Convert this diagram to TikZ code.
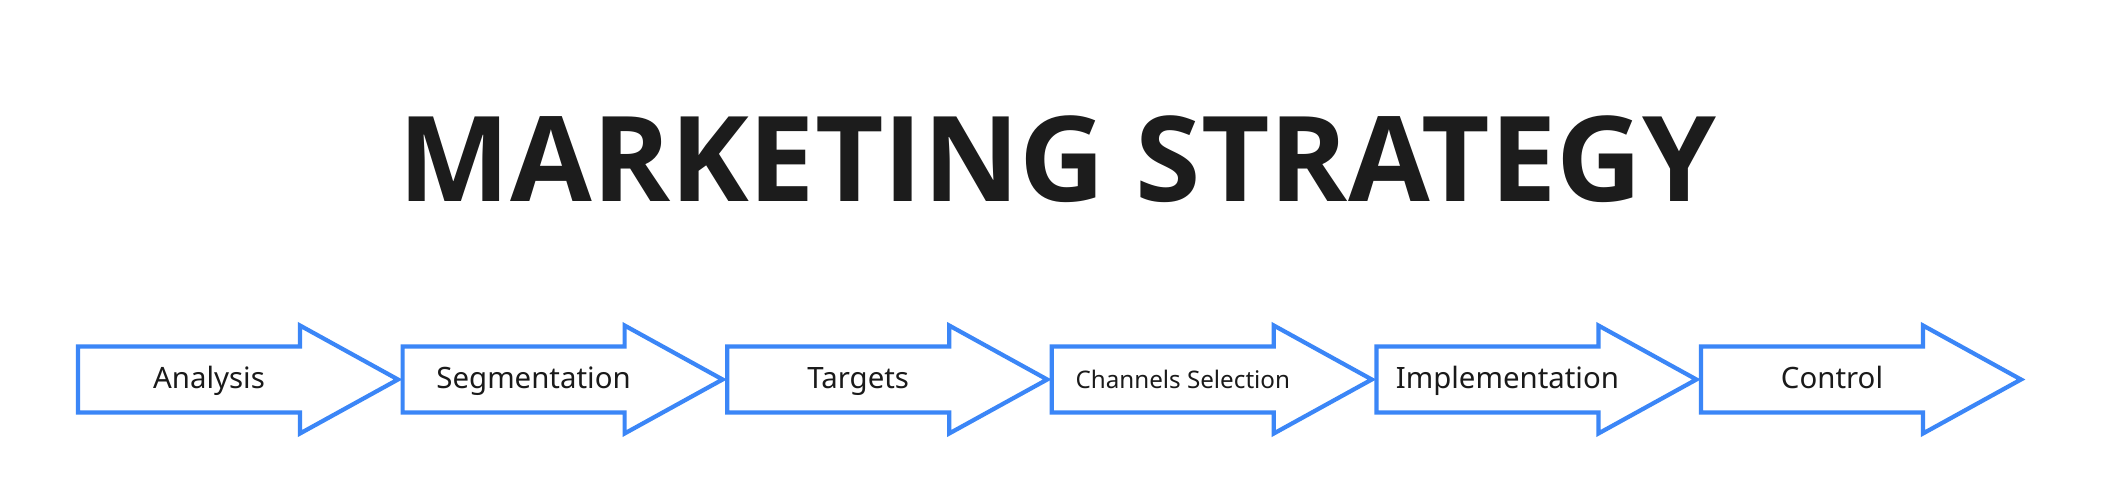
\documentclass[tikz,border=0pt]{standalone}
\usepackage{fontspec}
\setmainfont{Noto Sans}
\newfontfamily\titlefont{Open Sans}
\definecolor{arrowblue}{HTML}{3B86F7}
\definecolor{titlegray}{HTML}{1C1C1C}
\definecolor{labelgray}{HTML}{1A1A1A}
\begin{document}
\begin{tikzpicture}[x=1pt,y=1pt,
  stepshape/.style={draw=arrowblue,line width=4.2pt,fill=white,line join=miter},
  steplabel/.style={anchor=base,text=labelgray,font=\fontsize{29.4}{32}\selectfont,inner sep=0pt},
  smalllabel/.style={steplabel,font=\fontsize{24.2}{27}\selectfont},
  titletext/.style={anchor=base,text=titlegray,font=\titlefont\fontsize{118.5}{120}\selectfont\bfseries,inner sep=0pt}]
\useasboundingbox (0,0) rectangle (2115,492);
\fill[white] (0,0) rectangle (2115,492);
\node[titletext] (title) at (1057.5,290) {MARKETING STRATEGY};
\foreach \i/\txt/\sty in {0/Analysis/steplabel,1/Segmentation/steplabel,2/Targets/steplabel,3/Channels Selection/smalllabel,4/Implementation/steplabel,5/Control/steplabel}{
  \pgfmathsetmacro{\L}{78+324.6*\i}
  \draw[stepshape] (\L,79.5) -- (\L,145.5) -- (\L+222,145.5) -- (\L+222,166.5) -- (\L+320,112.5) -- (\L+222,58.5) -- (\L+222,79.5) -- cycle;
  \node[\sty] (label\i) at (\L+131,103) {\txt};
}
\end{tikzpicture}
\end{document}
